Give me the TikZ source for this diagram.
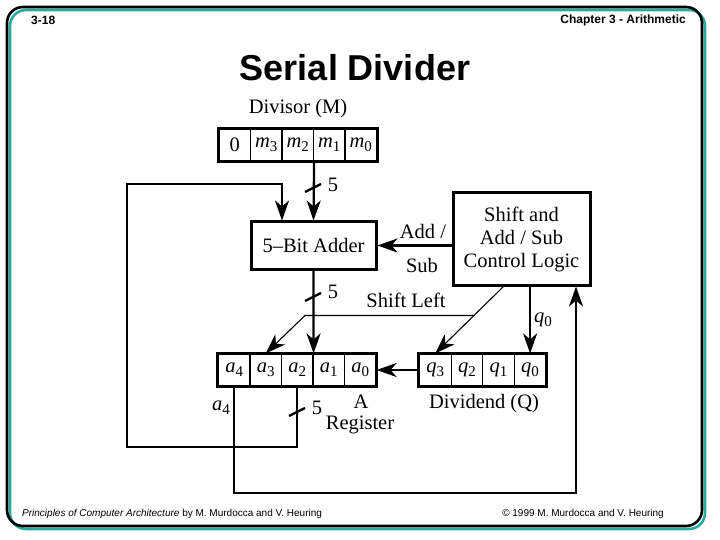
\documentclass[tikz,border=0pt]{standalone}
\usepackage{fontspec}
\setmainfont{Liberation Serif}
\newfontfamily\hdrfont{Liberation Sans}
\usetikzlibrary{arrows.meta}
\definecolor{frameteal}{RGB}{40,170,160}
\newcommand\vsub[2]{\textit{#1}\raisebox{-0.4ex}{\fontsize{15bp}{15bp}\selectfont #2}}
\tikzset{
  >={Stealth[length=20bp,width=14bp,inset=6bp]},
  cell/.style={draw, line width=1.2bp, minimum width=31.5bp, minimum height=32bp, inner sep=0pt},
  box/.style={draw, line width=3bp, inner sep=0pt, align=center},
  conn/.style={line width=2.3bp},
  thinconn/.style={line width=1.1bp},
  slashmark/.style={line width=2.3bp},
  lbl/.style={inner sep=0pt},
  hdr/.style={inner sep=0pt, font=\hdrfont\bfseries\fontsize{12bp}{14bp}\selectfont},
  ftr/.style={inner sep=0pt, font=\hdrfont\fontsize{10bp}{12bp}\selectfont},
}
\begin{document}
\begin{tikzpicture}[x=1bp, y=-1bp, font=\fontsize{20.5bp}{23bp}\selectfont]
\useasboundingbox (0,0) rectangle (720,540);
\fill[white] (0,0) rectangle (720,540);
% frame
\draw[frameteal, line width=2.6bp, rounded corners=16bp] (10,10) rectangle (705,529);
\draw[black, line width=2.6bp, rounded corners=16bp] (7,7) rectangle (702,526);
% header / footer
\node[hdr, anchor=west] (pg) at (31,20) {3-18};
\node[hdr, anchor=east] (ch) at (686,20) {Chapter 3 - Arithmetic};
\node[inner sep=0pt, font=\hdrfont\bfseries\fontsize{36bp}{40bp}\selectfont] (title) at (355,68) {Serial Divider};
\node[ftr, anchor=west] (fl) at (22,514) {\textit{Principles of Computer Architecture} by M. Murdocca and V. Heuring};
\node[ftr, anchor=east] (fr) at (664,514) {\textcopyright\ 1999 M. Murdocca and V. Heuring};

% divisor register
\node[lbl] (divlbl) at (298,109) {Divisor (M)};
\node[cell] (m4) at (234.75,145) {0};
\node[cell] (m3) at (266.25,145) {\vsub{m}{3}};
\node[cell] (m2) at (297.75,145) {\vsub{m}{2}};
\node[cell] (m1) at (329.25,145) {\vsub{m}{1}};
\node[cell] (m0) at (360.75,145) {\vsub{m}{0}};
\draw[line width=3bp] (m4.north west) rectangle (m0.south east);

% adder and control
\node[box, minimum width=125bp, minimum height=47bp] (adder) at (313.5,245.5) {5--Bit Adder};
\node[box, minimum width=137bp, minimum height=92bp] (ctrl) at (521.5,239) {Shift and\\Add / Sub\\Control Logic};

% A register
\node[cell] (a4) at (234.25,370) {\vsub{a}{4}};
\node[cell] (a3) at (265.75,370) {\vsub{a}{3}};
\node[cell] (a2) at (297.25,370) {\vsub{a}{2}};
\node[cell] (a1) at (328.75,370) {\vsub{a}{1}};
\node[cell] (a0) at (360.25,370) {\vsub{a}{0}};
\draw[line width=3bp] (a4.north west) rectangle (a0.south east);

% Q register
\node[cell, minimum width=31.6bp] (q3) at (435.3,370) {\vsub{q}{3}};
\node[cell, minimum width=31.6bp] (q2) at (466.9,370) {\vsub{q}{2}};
\node[cell, minimum width=31.6bp] (q1) at (498.5,370) {\vsub{q}{1}};
\node[cell, minimum width=31.6bp] (q0) at (530.1,370) {\vsub{q}{0}};
\draw[line width=3bp] (q3.north west) rectangle (q0.south east);

% labels
\node[lbl] (five1) at (333,185) {5};
\node[lbl] (five2) at (333,292) {5};
\node[lbl] (five3) at (317,408) {5};
\node[lbl] (addl) at (423,231) {Add /};
\node[lbl] (subl) at (422,265) {Sub};
\node[lbl] (shl) at (406,300) {Shift Left};
\node[lbl] (q0l) at (543,320) {\vsub{q}{0}};
\node[lbl] (a4l) at (221,408) {\vsub{a}{4}};
\node[lbl] (al) at (361,402) {A};
\node[lbl] (regl) at (360,425) {Register};
\node[lbl] (dvl) at (484,404) {Dividend (Q)};

% coordinates
\coordinate (fbl) at (127,447);
\coordinate (fbt) at (127,184);
\coordinate (br) at (576,493);
\coordinate (sl0) at (505,285);
\coordinate (slA) at (474.5,315.5);
\coordinate (slB) at (305,315.5);

% connectors
\draw[conn,->] (m2.south east) -- (adder.north);
\draw[conn,->] (a2.south) |- (fbl) -- (fbt) -| ([xshift=-31.5bp]adder.north);
\draw[conn,->] (a4.south) |- (br) -- (br |- ctrl.south);
\draw[conn,->] (adder.south) -- (a2.north east);
\draw[conn,->] (ctrl.west |- adder.east) -- (adder.east);
\draw[conn,->] (q0.north |- ctrl.south) -- (q0.north);
\draw[conn,->] (q3.west) -- (a0.east);
\draw[thinconn,->] (sl0) -- (q3.north);
\draw[thinconn,->] (slA) -- (slB) -- (a3.north);

% slash marks
\draw[slashmark] (305,192) -- (321,184);
\draw[slashmark] (305,301) -- (321,293);
\draw[slashmark] (289,416) -- (305,408);
\end{tikzpicture}
\end{document}
